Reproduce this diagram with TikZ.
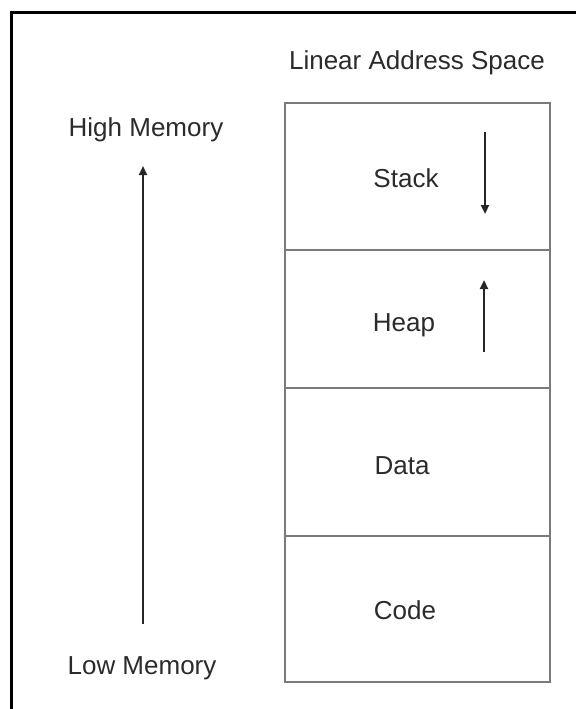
\documentclass[tikz,border=0pt]{standalone}
\usepackage{fontspec}
\setmainfont{Liberation Sans}
\usetikzlibrary{arrows.meta}
\definecolor{txt}{HTML}{2B2B2B}
\definecolor{boxline}{HTML}{7A7A7A}
\begin{document}
\begin{tikzpicture}[x=1pt,y=-1pt,
  lbl/.style={text=txt,font=\fontsize{26}{31}\selectfont,inner sep=0pt},
  seg/.style={draw=boxline,line width=2.4pt},
  growarrow/.style={draw=black!85,line width=2.2pt,-{Triangle[length=9pt,width=8pt]}}]
  \useasboundingbox (0,0) rectangle (576,709);
  \fill[white] (0,0) rectangle (576,709);
  % partial frame
  \draw[line width=3pt,black] (11,709) -- (11,13) -- (576,13);
  % title
  \node[lbl] (title) at (417,63) {Linear Address Space};
  % memory segments
  \node[seg,minimum width=265pt,minimum height=147pt,inner sep=0pt] (stack) at (417.5,176.5) {};
  \node[seg,minimum width=265pt,minimum height=138pt,inner sep=0pt] (heap) at (417.5,319) {};
  \node[seg,minimum width=265pt,minimum height=148pt,inner sep=0pt] (data) at (417.5,462) {};
  \node[seg,minimum width=265pt,minimum height=146pt,inner sep=0pt] (code) at (417.5,609) {};
  \node[lbl] (stacklbl) at (406,178) {Stack};
  \node[lbl] (heaplbl) at (404,325) {Heap};
  \node[lbl] (datalbl) at (402,466) {Data};
  \node[lbl] (codelbl) at (405,610) {Code};
  % growth directions
  \coordinate (stackA) at (485,132);
  \coordinate (stackB) at (485,214);
  \coordinate (heapA) at (484,352);
  \coordinate (heapB) at (484,280);
  \draw[growarrow] (stackA) -- (stackB);
  \draw[growarrow] (heapA) -- (heapB);
  % address direction
  \node[lbl] (high) at (146,130) {High Memory};
  \node[lbl] (low) at (142,668) {Low Memory};
  \coordinate (lowA) at (143,624);
  \coordinate (highA) at (143,166);
  \draw[growarrow] (lowA) -- (highA);
\end{tikzpicture}
\end{document}
